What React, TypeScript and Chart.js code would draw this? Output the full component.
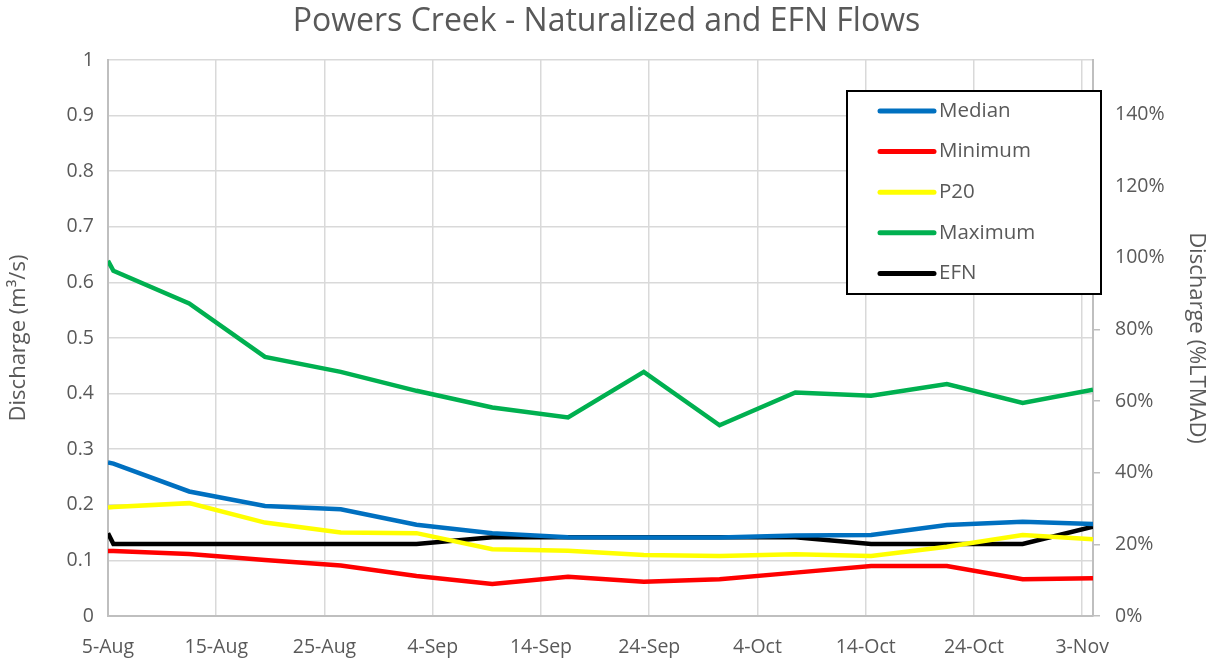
import React, { useEffect, useRef } from "react";
import { Chart, registerables } from "chart.js";

Chart.register(...registerables);

// Day offsets from 5-Aug
const days = [0, 0.5, 7.5, 14.5, 21.5, 28.5, 35.5, 42.5, 49.5, 56.5, 63.5, 70.5, 77.5, 84.5, 91];

const median = [0.276, 0.274, 0.224, 0.198, 0.192, 0.164, 0.149, 0.1415, 0.141, 0.141, 0.1448, 0.1457, 0.1637, 0.1697, 0.1655];
const minimum = [0.117, 0.1168, 0.1115, 0.1007, 0.091, 0.072, 0.0576, 0.0707, 0.0617, 0.066, 0.078, 0.09, 0.09, 0.066, 0.0678];
const p20 = [0.195, 0.196, 0.203, 0.168, 0.15, 0.149, 0.12, 0.1175, 0.1097, 0.108, 0.111, 0.108, 0.1247, 0.1457, 0.138];
const maximum = [0.639, 0.621, 0.562, 0.466, 0.439, 0.405, 0.375, 0.357, 0.439, 0.343, 0.402, 0.396, 0.417, 0.383, 0.407];
const efn = [0.149, 0.1295, 0.1295, 0.1295, 0.1295, 0.1295, 0.1415, 0.1415, 0.1415, 0.1415, 0.1415, 0.1295, 0.1295, 0.1295, 0.1607];

const seriesNames = ["Median", "Minimum", "P20", "Maximum", "EFN"];
const seriesColors = ["#0070C0", "#FF0000", "#FFFF00", "#00B050", "#000000"];

const xTickDays = [0, 10, 20, 30, 40, 50, 60, 70, 80, 90];
const xTickLabels = ["5-Aug", "15-Aug", "25-Aug", "4-Sep", "14-Sep", "24-Sep", "4-Oct", "14-Oct", "24-Oct", "3-Nov"];
const xMaxDay = 91;

const leftTicks = [0, 0.1, 0.2, 0.3, 0.4, 0.5, 0.6, 0.7, 0.8, 0.9, 1];
const ltmad = 0.644; // m3/s equal to 100% LTMAD
const rightTicks = [0, 20, 40, 60, 80, 100, 120, 140];

const FONT = "'Open Sans', 'Noto Sans', sans-serif";
const TEXT = "#595959";

const legendBox = {
  id: "legendBox",
  afterDraw(chart: any) {
    const ctx = chart.ctx;
    const ca = chart.chartArea;
    const left = ca.right - 246;
    const top = ca.top + 31;
    const w = 254;
    const h = 203;
    ctx.save();
    ctx.fillStyle = "#ffffff";
    ctx.fillRect(left, top, w, h);
    ctx.strokeStyle = "#000000";
    ctx.lineWidth = 2;
    ctx.strokeRect(left, top, w, h);
    ctx.font = `20.5px ${FONT}`;
    ctx.textBaseline = "middle";
    ctx.textAlign = "left";
    chart.data.datasets.forEach((ds: any, i: number) => {
      const y = top + 20 + i * 40.6;
      ctx.strokeStyle = ds.borderColor;
      ctx.lineWidth = 5;
      ctx.lineCap = "round";
      ctx.beginPath();
      ctx.moveTo(left + 33, y);
      ctx.lineTo(left + 87, y);
      ctx.stroke();
      ctx.fillStyle = TEXT;
      ctx.fillText(ds.label, left + 92, y);
    });
    ctx.restore();
  },
};

export default function App() {
  const ref = useRef<HTMLCanvasElement>(null);

  useEffect(() => {
    document.body.style.margin = "0";
    const allSeries = [median, minimum, p20, maximum, efn];
    const chart = new Chart(ref.current!, {
      type: "line",
      data: {
        datasets: allSeries.map((s, i) => ({
          label: seriesNames[i],
          data: s.map((v, j) => ({ x: days[j], y: v })),
          borderColor: seriesColors[i],
          backgroundColor: seriesColors[i],
          borderWidth: 4.5,
          pointRadius: 0,
          tension: 0,
          yAxisID: "y",
        })),
      },
      options: {
        animation: false,
        responsive: false,
        maintainAspectRatio: false,
        layout: { padding: 0 },
        plugins: {
          legend: { display: false },
          tooltip: { enabled: false },
          title: {
            display: true,
            text: "Powers Creek - Naturalized and EFN Flows",
            color: TEXT,
            font: { family: FONT, size: 32, weight: "normal", lineHeight: 1.2 },
            padding: { top: 3, bottom: 18.6 },
          },
        },
        scales: {
          x: {
            type: "linear",
            min: 0,
            max: xMaxDay,
            afterBuildTicks: (scale: any) => {
              scale.ticks = xTickDays.map((v) => ({ value: v }));
            },
            afterFit: (scale: any) => {
              scale.height = 46;
            },
            ticks: {
              color: TEXT,
              font: { family: FONT, size: 19.5 },
              padding: 20,
              maxRotation: 0,
              autoSkip: false,
              callback: (v: any) => {
                const i = xTickDays.indexOf(Number(v));
                return i >= 0 ? xTickLabels[i] : "";
              },
            },
            grid: { color: "#d9d9d9", lineWidth: 1.5, drawTicks: false },
            border: { color: "#bfbfbf", width: 2 },
          },
          y: {
            position: "left",
            min: 0,
            max: 1,
            afterBuildTicks: (scale: any) => {
              scale.ticks = leftTicks.map((v) => ({ value: v }));
            },
            afterFit: (scale: any) => {
              scale.width = 108;
            },
            ticks: {
              color: TEXT,
              font: { family: FONT, size: 19.5 },
              padding: 14,
              callback: (v: any) => String(Math.round(Number(v) * 10) / 10),
            },
            grid: { color: "#d9d9d9", lineWidth: 1.5, drawTicks: false },
            border: { color: "#bfbfbf", width: 2 },
            title: {
              display: true,
              text: "Discharge (m³/s)",
              color: TEXT,
              font: { family: FONT, size: 22, lineHeight: 1.2 },
              padding: { top: 6, bottom: 0 },
            },
          },
          y2: {
            position: "right",
            min: 0,
            max: 100 / ltmad,
            afterBuildTicks: (scale: any) => {
              scale.ticks = rightTicks.map((v) => ({ value: v }));
            },
            afterFit: (scale: any) => {
              scale.width = 120;
            },
            ticks: {
              color: TEXT,
              font: { family: FONT, size: 19.5 },
              padding: 15,
              callback: (v: any) => `${v}%`,
            },
            grid: { drawOnChartArea: false, drawTicks: true, tickLength: 7, color: "#bfbfbf", lineWidth: 1.5 },
            border: { color: "#bfbfbf", width: 2 },
            title: {
              display: true,
              text: "Discharge (%LTMAD)",
              color: TEXT,
              font: { family: FONT, size: 22, lineHeight: 1.2 },
              padding: { top: 4, bottom: 0 },
            },
          },
        },
      },
      plugins: [legendBox],
    });
    return () => chart.destroy();
  }, []);

  return (
    <div style={{ position: "absolute", left: 0, top: 0, width: 1213, height: 662 }}>
      <canvas ref={ref} width={1213} height={662} style={{ display: "block" }} />
    </div>
  );
}
